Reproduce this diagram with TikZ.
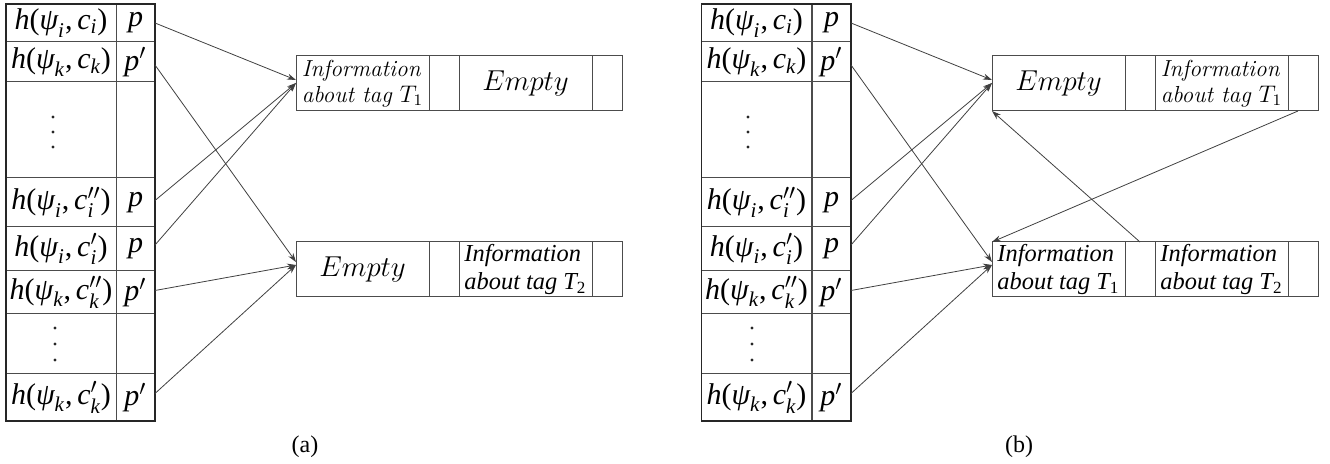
\documentclass[tikz,border=0pt]{standalone}
\usepackage{amsmath}
\usepackage{fontspec}
\newfontfamily\tms{Liberation Serif}
\usetikzlibrary{arrows.meta}
\newcommand\T[1]{\textit{\tms #1}}
\newcommand\R[1]{\textup{\tms #1}}
\newcommand\hh[2]{$\T{h}\R{(}\T{ψ}_{\T{#1}}\R{,}\,\T{c}#2\R{)}$}
\begin{document}
\begin{tikzpicture}[x=0.5pt,y=-0.5pt,
 cell/.style={draw=black!70, line width=0.5pt, inner sep=1pt, outer sep=0pt},
 hcol/.style={cell, minimum width=55pt, font=\fontsize{15}{17}\selectfont},
 pcol/.style={cell, minimum width=19.5pt, font=\fontsize{15}{17}\selectfont},
 wide/.style={cell, minimum width=66.5pt, minimum height=27.5pt, align=left},
 narrow/.style={cell, minimum width=15pt, minimum height=27.5pt},
 cmtext/.style={font=\fontsize{11.6}{13}\selectfont\itshape},
 tmtext/.style={font=\fontsize{12.2}{14}\selectfont\tms\itshape},
 emp/.style={font=\fontsize{13.4}{15}\selectfont},
 conn/.style={draw=black!75, line width=0.4pt, -{Stealth[length=4.5pt,width=3pt]}},
 outer/.style={draw=black!85, line width=0.8pt},
 dot/.style={fill=black!85},
 subcap/.style={font=\fontsize{12}{14}\selectfont\tms}]
\useasboundingbox (0,0) rectangle (1330,464);

% ---------- (a) table ----------
\node[hcol, minimum height=19pt]   (a1h) at (61,23)    {\hh{i}{_{\T{i}}}};
\node[pcol, minimum height=19pt]   (a1p) at (135.5,23) {$\T{p}$};
\node[hcol, minimum height=20pt]   (a2h) at (61,62)    {\hh{k}{_{\T{k}}}};
\node[pcol, minimum height=20pt]   (a2p) at (135.5,62) {$\T{p}'$};
\node[hcol, minimum height=48pt]   (a3h) at (61,130)   {};
\node[pcol, minimum height=48pt]   (a3p) at (135.5,130) {};
\node[hcol, minimum height=24.5pt] (a4h) at (61,202.5) {\hh{i}{''_{\T{i}}}};
\node[pcol, minimum height=24.5pt] (a4p) at (135.5,202.5) {$\T{p}$};
\node[hcol, minimum height=22pt]   (a5h) at (61,249)   {\hh{i}{'_{\T{i}}}};
\node[pcol, minimum height=22pt]   (a5p) at (135.5,249) {$\T{p}$};
\node[hcol, minimum height=21.5pt] (a6h) at (61,292.5) {\hh{k}{''_{\T{k}}}};
\node[pcol, minimum height=21.5pt] (a6p) at (135.5,292.5) {$\T{p}'$};
\node[hcol, minimum height=30pt]   (a7h) at (61,344)   {};
\node[pcol, minimum height=30pt]   (a7p) at (135.5,344) {};
\node[hcol, minimum height=23.5pt] (a8h) at (61,397.5) {\hh{k}{'_{\T{k}}}};
\node[pcol, minimum height=23.5pt] (a8p) at (135.5,397.5) {$\T{p}'$};
\draw[outer] (a1h.north west) rectangle (a8p.south east);
\foreach \yy in {117,132,147} \fill[dot] (53,\yy) circle (0.8pt);
\foreach \yy in {328,344,360} \fill[dot] (55,\yy) circle (0.8pt);

% ---------- (a) buckets ----------
\node[wide, cmtext] (A1a) at (362.5,83.5) {Information\\about tag $T_1$};
\node[narrow]       (A1b) at (444,83.5) {};
\node[wide, emp]    (A1c) at (525.5,83.5) {$Empty$};
\node[narrow]       (A1d) at (607,83.5) {};
\node[wide, emp]    (A2a) at (362.5,269.5) {$Empty$};
\node[narrow]       (A2b) at (444,269.5) {};
\node[wide, tmtext] (A2c) at (525.5,269.5) {Information\\about tag T{\upshape\textsubscript{2}}};
\node[narrow]       (A2d) at (607,269.5) {};

\draw[conn] (a1p.east) -- ([yshift=1.75pt]A1a.west);
\draw[conn] ([yshift=-1.5pt]a2p.east) -- ([yshift=3.75pt]A2a.west);
\draw[conn] ([yshift=1pt]a4p.east) -- ([yshift=0.25pt]A1a.west);
\draw[conn] ([yshift=2pt]a5p.east) -- ([yshift=0.25pt]A1a.west);
\draw[conn] ([yshift=1pt]a6p.east) -- ([yshift=2.25pt]A2a.west);
\draw[conn] ([yshift=2pt]a8p.east) -- ([yshift=2.25pt]A2a.west);

\node[subcap] (capa) at (305,447) {(a)};

% ---------- (b) table ----------
\node[hcol, minimum height=19pt]   (b1h) at (756.5,23)    {\hh{i}{_{\T{i}}}};
\node[pcol, minimum height=19pt]   (b1p) at (831.5,23) {$\T{p}$};
\node[hcol, minimum height=20pt]   (b2h) at (756.5,62)    {\hh{k}{_{\T{k}}}};
\node[pcol, minimum height=20pt]   (b2p) at (831.5,62) {$\T{p}'$};
\node[hcol, minimum height=48pt]   (b3h) at (756.5,130)   {};
\node[pcol, minimum height=48pt]   (b3p) at (831.5,130) {};
\node[hcol, minimum height=24.5pt] (b4h) at (756.5,202.5) {\hh{i}{''_{\T{i}}}};
\node[pcol, minimum height=24.5pt] (b4p) at (831.5,202.5) {$\T{p}$};
\node[hcol, minimum height=22pt]   (b5h) at (756.5,249)   {\hh{i}{'_{\T{i}}}};
\node[pcol, minimum height=22pt]   (b5p) at (831.5,249) {$\T{p}$};
\node[hcol, minimum height=21.5pt] (b6h) at (756.5,292.5) {\hh{k}{''_{\T{k}}}};
\node[pcol, minimum height=21.5pt] (b6p) at (831.5,292.5) {$\T{p}'$};
\node[hcol, minimum height=30pt]   (b7h) at (756.5,344)   {};
\node[pcol, minimum height=30pt]   (b7p) at (831.5,344) {};
\node[hcol, minimum height=23.5pt] (b8h) at (756.5,397.5) {\hh{k}{'_{\T{k}}}};
\node[pcol, minimum height=23.5pt] (b8p) at (831.5,397.5) {$\T{p}'$};
\draw[outer] (b1h.north west) rectangle (b8p.south east);
\foreach \yy in {117,132,147} \fill[dot] (748,\yy) circle (0.8pt);
\foreach \yy in {328,344,360} \fill[dot] (752,\yy) circle (0.8pt);

% ---------- (b) buckets ----------
\node[wide, emp]    (B1a) at (1058.5,83.5) {$Empty$};
\node[narrow]       (B1b) at (1140,83.5) {};
\node[wide, cmtext] (B1c) at (1221.5,83.5) {Information\\about tag $T_1$};
\node[narrow]       (B1d) at (1303,83.5) {};
\node[wide, tmtext] (B2a) at (1058.5,269.5) {Information\\about tag T{\upshape\textsubscript{1}}};
\node[narrow]       (B2b) at (1140,269.5) {};
\node[wide, tmtext] (B2c) at (1221.5,269.5) {Information\\about tag T{\upshape\textsubscript{2}}};
\node[narrow]       (B2d) at (1303,269.5) {};

\draw[conn] (b1p.east) -- ([yshift=1.75pt]B1a.west);
\draw[conn] ([yshift=-1.5pt]b2p.east) -- ([yshift=3.75pt]B2a.west);
\draw[conn] ([yshift=1pt]b4p.east) -- ([yshift=0.25pt]B1a.west);
\draw[conn] ([yshift=2pt]b5p.east) -- ([yshift=0.25pt]B1a.west);
\draw[conn] ([yshift=1pt]b6p.east) -- ([yshift=2.25pt]B2a.west);
\draw[conn] ([yshift=2pt]b8p.east) -- ([yshift=2.25pt]B2a.west);
\draw[conn] ([xshift=-2.5pt]B1d.south) -- (B2a.north west);
\draw[conn] (B2b.north) -- (B1a.south west);

\node[subcap] (capb) at (1019,447) {(b)};
\end{tikzpicture}
\end{document}
